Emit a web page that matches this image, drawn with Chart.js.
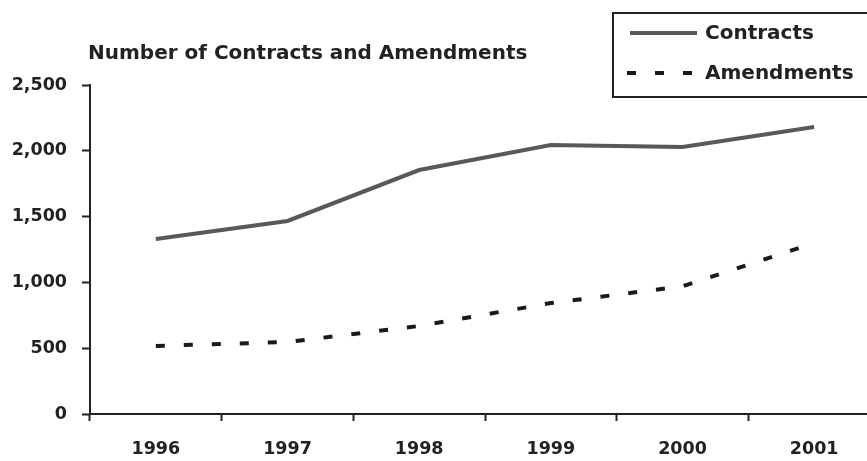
<!DOCTYPE html>
<html>
<head>
<meta charset="utf-8">
<script src="https://cdn.jsdelivr.net/npm/chart.js@4"></script>
<style>
    html, body { margin: 0; padding: 0; background: #fff; overflow: hidden; }
    #wrap { width: 867px; height: 461px; overflow: hidden; }
</style>
</head>
<body>
<div id="wrap"><canvas id="chart" width="884" height="461"></canvas></div>
<script>
var years = ["1996", "1997", "1998", "1999", "2000", "2001"];
var contracts = [1330, 1467, 1854, 2044, 2029, 2181];
var amendments = [517, 547, 669, 843, 970, 1300];
var yTicks = [0, 500, 1000, 1500, 2000, 2500];

var ink = "#222";
var font = "'DejaVu Sans', 'Liberation Sans', Arial, sans-serif";

// title and legend are drawn by hand, the legend box runs off the right edge
var extras = {
    id: "extras",
    afterDraw: function (chart) {
        var ctx = chart.ctx;
        ctx.save();
        ctx.fillStyle = ink;
        ctx.textBaseline = "middle";
        ctx.font = "bold 20px " + font;
        ctx.textAlign = "left";
        ctx.fillText("Number of Contracts and Amendments", 88, 54);

        ctx.lineWidth = 2;
        ctx.strokeStyle = ink;
        ctx.strokeRect(613, 13, 300, 84);

        ctx.lineWidth = 4;
        ctx.strokeStyle = "#595959";
        ctx.beginPath();
        ctx.moveTo(630, 33);
        ctx.lineTo(697, 33);
        ctx.stroke();

        ctx.strokeStyle = "#1a1a1a";
        ctx.setLineDash([9, 19]);
        ctx.beginPath();
        ctx.moveTo(627, 73);
        ctx.lineTo(697, 73);
        ctx.stroke();
        ctx.setLineDash([]);

        ctx.fillText("Contracts", 705, 34);
        ctx.fillText("Amendments", 705, 74);
        ctx.restore();
    }
};

new Chart(document.getElementById("chart"), {
    type: "line",
    data: {
        labels: years,
        datasets: [
            {
                label: "Contracts",
                data: contracts,
                borderColor: "#595959",
                borderWidth: 4,
                pointRadius: 0,
                tension: 0,
                fill: false
            },
            {
                label: "Amendments",
                data: amendments,
                borderColor: "#1a1a1a",
                borderWidth: 4,
                borderDash: [9, 19],
                pointRadius: 0,
                tension: 0,
                fill: false
            }
        ]
    },
    options: {
        responsive: false,
        animation: false,
        layout: { padding: { top: 85, right: 4, left: 0, bottom: 0 } },
        plugins: {
            legend: { display: false },
            tooltip: { enabled: false }
        },
        scales: {
            x: {
                offset: true,
                grid: {
                    offset: true,
                    drawOnChartArea: false,
                    tickLength: 7,
                    tickWidth: 2,
                    tickColor: ink
                },
                border: { color: ink, width: 2 },
                ticks: {
                    color: ink,
                    padding: 18,
                    maxRotation: 0,
                    font: { family: font, size: 17.5, weight: "bold" }
                },
                afterFit: function (scale) { scale.height = 47; }
            },
            y: {
                min: 0,
                max: 2500,
                afterBuildTicks: function (scale) {
                    scale.ticks = yTicks.map(function (v) { return { value: v }; });
                },
                grid: {
                    drawOnChartArea: false,
                    tickLength: 8,
                    tickWidth: 2,
                    tickColor: ink
                },
                border: { color: ink, width: 2 },
                ticks: {
                    color: ink,
                    padding: 15,
                    font: { family: font, size: 17.5, weight: "bold" },
                    callback: function (v) { return v.toLocaleString("en-US"); }
                },
                afterFit: function (scale) { scale.width = 90; }
            }
        }
    },
    plugins: [extras]
});
</script>
</body>
</html>
